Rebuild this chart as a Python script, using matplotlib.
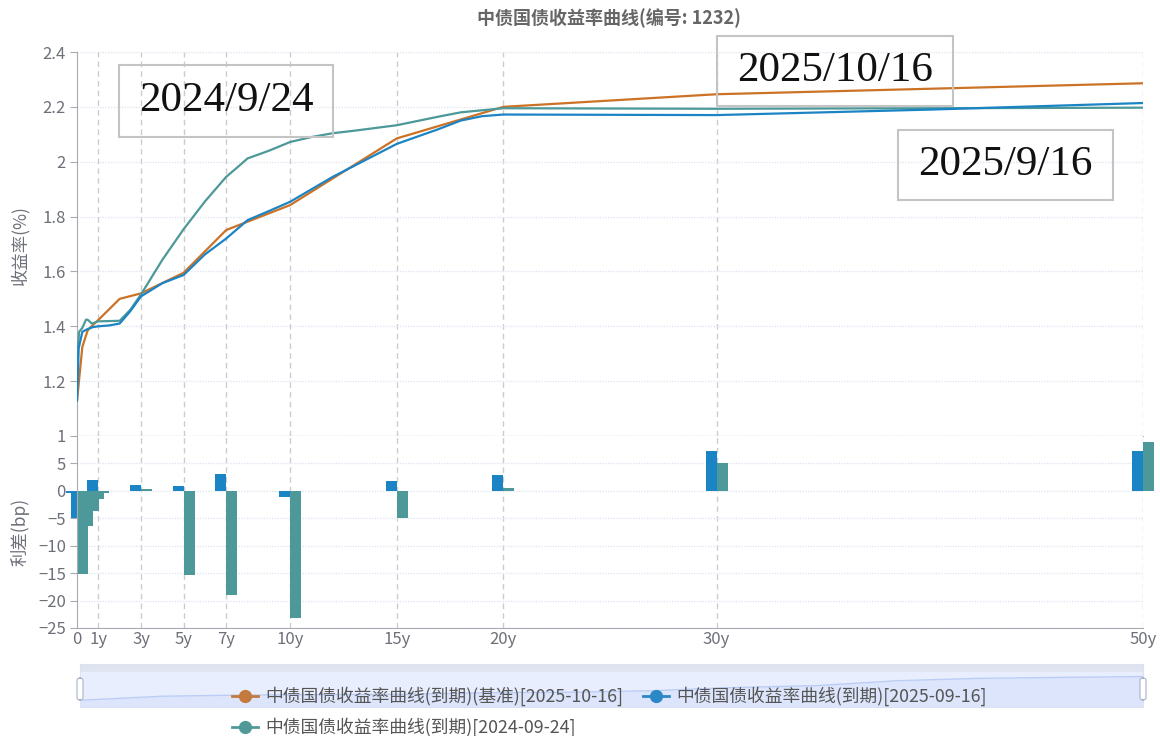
import numpy as np
import matplotlib.pyplot as plt
from matplotlib.patches import Rectangle, FancyBboxPatch
from matplotlib.lines import Line2D
from matplotlib.ticker import FuncFormatter

plt.rcParams['font.family'] = ['Noto Sans CJK SC', 'DejaVu Sans']

# yield curves (term in years, yield in %)
base_t = [0, 0.25, 0.5, 0.75, 1, 2, 3, 5, 7, 10, 15, 20, 30, 50]
base_y = [1.128, 1.325, 1.385, 1.405, 1.423, 1.50, 1.52, 1.595, 1.751, 1.842, 2.085, 2.200, 2.246, 2.286]

sep_t = [0, 0.08, 0.25, 0.5, 0.75, 1, 1.5, 2, 2.5, 3, 4, 5, 6, 7, 8, 9, 10, 12, 15, 17, 18, 19, 20, 25, 30, 40, 50]
sep_y = [1.13, 1.32, 1.38, 1.39, 1.397, 1.40, 1.403, 1.41, 1.455, 1.509, 1.557, 1.587, 1.662, 1.72, 1.787,
         1.82, 1.854, 1.945, 2.065, 2.12, 2.15, 2.166, 2.172, 2.171, 2.17, 2.19, 2.214]

old_t = [0, 0.1, 0.25, 0.42, 0.5, 0.7, 1, 2, 2.5, 3, 4, 5, 6, 7, 7.5, 8, 9, 10, 11, 12, 13, 15, 17, 18, 20, 30, 50]
old_y = [1.277, 1.38, 1.394, 1.424, 1.424, 1.41, 1.418, 1.42, 1.46, 1.516, 1.642, 1.754, 1.855, 1.945, 1.978,
         2.012, 2.04, 2.072, 2.09, 2.104, 2.113, 2.133, 2.165, 2.18, 2.195, 2.193, 2.197]

# spreads in bp (base minus other curve)
bar_t = [0, 0.25, 0.5, 0.75, 1, 3, 5, 7, 10, 15, 20, 30, 50]
spread_sep = [-0.3, -5.0, -0.5, -0.5, 2.0, 1.1, 0.8, 3.1, -1.2, 1.8, 2.8, 7.3, 7.3]
spread_old = [-15.2, -6.4, -3.6, -1.5, -0.3, 0.4, -15.4, -18.9, -23.2, -5.0, 0.5, 5.1, 8.9]

ticks = [0, 1, 3, 5, 7, 10, 15, 20, 30, 50]
tick_labels = ['0', '1y', '3y', '5y', '7y', '10y', '15y', '20y', '30y', '50y']

names = ['中债国债收益率曲线(到期)(基准)[2025-10-16]',
         '中债国债收益率曲线(到期)[2025-09-16]',
         '中债国债收益率曲线(到期)[2024-09-24]']
c_base = '#cc7226'
c_sep = '#1b84c4'
c_old = '#4d9898'
gray = '#6e7079'

W, H = 1160, 736
fig = plt.figure(figsize=(W / 100, H / 100), dpi=100)


def box(l, t, r, b):
    return [l / W, 1 - b / H, (r - l) / W, (b - t) / H]


ax1 = fig.add_axes(box(77, 52, 1143, 436))
ax2 = fig.add_axes(box(77, 436, 1143, 628))

for ax in (ax1, ax2):
    ax.set_xlim(0, 50)
    for s in ('top', 'right'):
        ax.spines[s].set_visible(False)
    ax.spines['left'].set_color('#a9abb2')
    ax.spines['bottom'].set_color('#a9abb2')
    ax.yaxis.grid(True, color='#e0e6f1', linestyle=(0, (1, 1)), linewidth=1)
    for t in ticks[1:]:
        ax.axvline(t, color='#cccccc', linestyle=(0, (4, 3)), linewidth=1, zorder=0)
    ax.set_axisbelow(True)
    ax.tick_params(axis='y', length=5, color='#a9abb2', labelcolor=gray, labelsize=12, pad=3)
    ax.set_xticks(ticks)

ax1.set_ylim(1, 2.4)
ax1.set_yticks(np.arange(1, 2.41, 0.2))
ax1.yaxis.set_major_formatter(FuncFormatter(lambda v, p: '%g' % round(v, 1)))
ax1.tick_params(axis='x', length=0, labelbottom=False)

ax1.plot(base_t, base_y, color=c_base, lw=1.6, zorder=3)
ax1.plot(sep_t, sep_y, color=c_sep, lw=1.6, zorder=4)
ax1.plot(old_t, old_y, color=c_old, lw=1.6, zorder=3)

ax2.set_ylim(-25, 10)
ax2.set_yticks(range(-25, 6, 5))
ax2.set_xticklabels(tick_labels)
ax2.tick_params(axis='x', length=0, labelcolor=gray, labelsize=12, pad=2)
ax2.bar(bar_t, spread_sep, width=-0.52, align='edge', color=c_sep, clip_on=False, zorder=2)
ax2.bar(bar_t, spread_old, width=0.52, align='edge', color=c_old, clip_on=False, zorder=2)

fig.text(609 / W, 1 - 18 / H, '中债国债收益率曲线(编号: 1232)', ha='center', va='center',
         fontsize=13, fontweight='bold', color='#666666')
fig.text(20 / W, 1 - 245 / H, '收益率(%)', rotation=90, ha='center', va='center', fontsize=12.5, color=gray)
fig.text(20 / W, 1 - 532 / H, '利差(bp)', rotation=90, ha='center', va='center', fontsize=12.5, color=gray)

# date annotation boxes
for (l, t, r, b), label in [((119, 65, 333, 137), '2024/9/24'),
                            ((717, 36, 953, 106), '2025/10/16'),
                            ((898, 130, 1113, 200), '2025/9/16')]:
    fig.add_artist(Rectangle((l / W, 1 - b / H), (r - l) / W, (b - t) / H, transform=fig.transFigure,
                             facecolor='none', edgecolor='#c4c4c4', linewidth=1.5, zorder=10))
    fig.text((l + r) / 2 / W, 1 - (t + b) / 2 / H, label, ha='center', va='center',
             family='Liberation Serif', fontsize=31, color='#111111', zorder=11)

# data zoom slider (shadow of the first series, drawn by point index)
ax3 = fig.add_axes(box(80, 664, 1143, 707))
ax3.set_facecolor('#e8eefd')
idx = np.arange(len(base_y))
ax3.set_xlim(0, idx[-1])
ax3.set_ylim(0.8, 2.9)
ax3.fill_between(idx, base_y, 0.8, color='#dce5fb', lw=0)
ax3.plot(idx, base_y, color='#bccdf5', lw=1)
ax3.add_patch(Rectangle((0, 2.5), idx[-1], 0.4, color='#dfe4f0', lw=0))
ax3.set_xticks([])
ax3.set_yticks([])
for s in ax3.spines.values():
    s.set_color('#dbe2f1')
for hx in (80, 1143):
    fig.add_artist(FancyBboxPatch(((hx - 3) / W, 1 - 700 / H), 6 / W, 22 / H, transform=fig.transFigure,
                                  boxstyle='round,pad=0,rounding_size=0.003',
                                  facecolor='white', edgecolor='#aab4c8', linewidth=0.8, zorder=5))

# legend
for (x0, y0), name, c in [((232, 696), names[0], '#c47a3c'), ((643, 696), names[1], '#2a88c6'),
                          ((232, 727), names[2], '#4f9a99')]:
    fig.add_artist(Line2D([x0 / W, (x0 + 26) / W], [1 - y0 / H, 1 - y0 / H], transform=fig.transFigure,
                          color=c, lw=2, zorder=6))
    fig.add_artist(Line2D([(x0 + 13) / W], [1 - y0 / H], transform=fig.transFigure, marker='o',
                          markersize=8.5, color=c, zorder=7))
    fig.text((x0 + 33) / W, 1 - y0 / H, name, ha='left', va='center', fontsize=12.8, color='#555555', zorder=7)

fig.savefig('out.png', dpi=100)
